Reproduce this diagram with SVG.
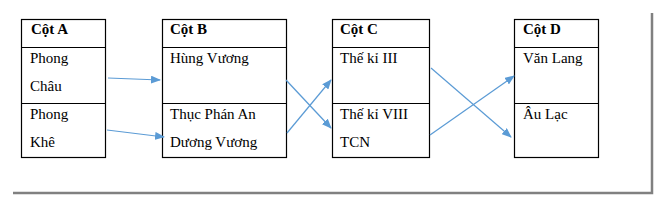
<svg xmlns="http://www.w3.org/2000/svg" width="662" height="203" viewBox="0 0 662 203">
<defs>
<style>
.box{fill:#fff;stroke:#000;stroke-width:1.2}
.t{font-family:'Liberation Serif','Times New Roman',Times,serif;font-size:15px;fill:#000}
.h{font-weight:bold}
.c{stroke:#5B9BD5;stroke-width:1.2;fill:none;marker-end:url(#ah)}
</style>
<marker id="ah" markerWidth="10" markerHeight="8" refX="9" refY="4" orient="auto" markerUnits="userSpaceOnUse">
<path d="M0,0 L10,4 L0,8 Z" fill="#5B9BD5"/>
</marker>
</defs>
<rect width="662" height="203" fill="#fff"/>
<path d="M13,193 H652 V13" fill="none" stroke="#808080" stroke-width="2.5"/>
<g id="colA">
<rect class="box" x="21.5" y="19.5" width="84" height="138"/>
<line class="box" x1="21.5" y1="47.5" x2="105.5" y2="47.5"/>
<line class="box" x1="21.5" y1="103.5" x2="105.5" y2="103.5"/>
<text class="t h" x="31" y="34">Cột A</text>
<text class="t" x="30" y="63">Phong</text>
<text class="t" x="30" y="91">Châu</text>
<text class="t" x="30" y="119">Phong</text>
<text class="t" x="30" y="147">Khê</text>
</g>
<g id="colB">
<rect class="box" x="162.5" y="19.5" width="124" height="138"/>
<line class="box" x1="162.5" y1="47.5" x2="286.5" y2="47.5"/>
<line class="box" x1="162.5" y1="103.5" x2="286.5" y2="103.5"/>
<text class="t h" x="170" y="34">Cột B</text>
<text class="t" x="170" y="63">Hùng Vương</text>
<text class="t" x="170" y="119">Thục Phán An</text>
<text class="t" x="170" y="147">Dương Vương</text>
</g>
<g id="colC">
<rect class="box" x="332.5" y="19.5" width="97" height="138"/>
<line class="box" x1="332.5" y1="47.5" x2="429.5" y2="47.5"/>
<line class="box" x1="332.5" y1="103.5" x2="429.5" y2="103.5"/>
<text class="t h" x="340" y="34">Cột C</text>
<text class="t" x="340" y="63">Thế kỉ III</text>
<text class="t" x="340" y="119">Thế kỉ VIII</text>
<text class="t" x="340" y="147">TCN</text>
</g>
<g id="colD">
<rect class="box" x="514.5" y="19.5" width="84" height="138"/>
<line class="box" x1="514.5" y1="47.5" x2="598.5" y2="47.5"/>
<line class="box" x1="514.5" y1="103.5" x2="598.5" y2="103.5"/>
<text class="t h" x="523" y="34">Cột D</text>
<text class="t" x="523" y="63">Văn Lang</text>
<text class="t" x="523" y="119">Âu Lạc</text>
</g>
<g id="connectors">
<line class="c" x1="108" y1="78" x2="160" y2="80"/>
<line class="c" x1="107" y1="130" x2="164" y2="137"/>
<line class="c" x1="286" y1="80" x2="331" y2="128"/>
<line class="c" x1="287" y1="133" x2="331" y2="80"/>
<line class="c" x1="431" y1="68" x2="511" y2="137"/>
<line class="c" x1="430" y1="135" x2="514" y2="76"/>
</g>
</svg>
